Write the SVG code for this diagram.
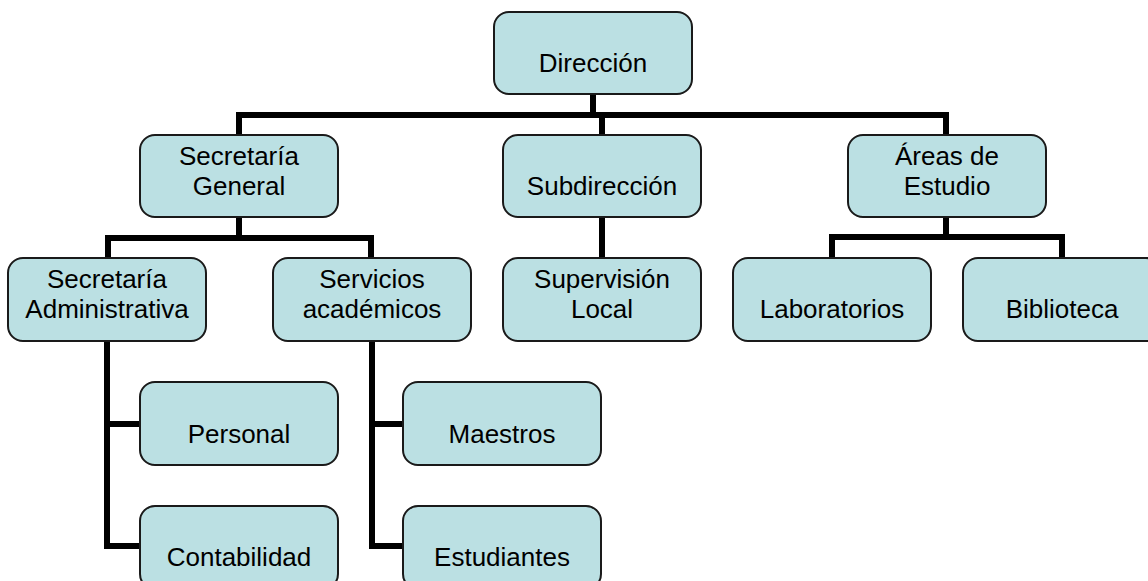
<svg xmlns="http://www.w3.org/2000/svg" width="1148" height="581" viewBox="0 0 1148 581">
<style>
.box{fill:#BBE0E3;stroke:#1a1a1a;stroke-width:2}
.lbl{font-family:"Liberation Sans",Arial,sans-serif;font-size:26px;fill:#000;text-anchor:middle}
.con{fill:none;stroke:#000;stroke-width:6;stroke-linejoin:miter;stroke-linecap:butt}
</style>
<rect width="1148" height="581" fill="#fff"/>
<g id="connectors">
<path class="con" d="M593,94 V115 M236,115 H949 M239,115 V135 M602,115 V135 M946,115 V135"/>
<path class="con" d="M239,217 V238 M108,258 V238 H371 V258"/>
<path class="con" d="M602,217 V258"/>
<path class="con" d="M946,217 V237 M832,258 V237 H1062 V258"/>
<path class="con" d="M107,341 V546 H140 M107,424 H140"/>
<path class="con" d="M372,341 V546 H403 M372,424 H403"/>
</g>
<g id="direccion"><rect class="box" x="494" y="12" width="198" height="82" rx="15"/><text class="lbl" x="593" y="72">Dirección</text></g>
<g id="secretaria-general"><rect class="box" x="140" y="135" width="198" height="82" rx="15"/><text class="lbl" x="239" y="165">Secretaría</text><text class="lbl" x="239" y="195">General</text></g>
<g id="subdireccion"><rect class="box" x="503" y="135" width="198" height="82" rx="15"/><text class="lbl" x="602" y="195">Subdirección</text></g>
<g id="areas-estudio"><rect class="box" x="848" y="135" width="198" height="82" rx="15"/><text class="lbl" x="947" y="165">Áreas de</text><text class="lbl" x="947" y="195">Estudio</text></g>
<g id="secretaria-administrativa"><rect class="box" x="8" y="258" width="198" height="83" rx="15"/><text class="lbl" x="107" y="288">Secretaría</text><text class="lbl" x="107" y="318">Administrativa</text></g>
<g id="servicios-academicos"><rect class="box" x="273" y="258" width="198" height="83" rx="15"/><text class="lbl" x="372" y="288">Servicios</text><text class="lbl" x="372" y="318">académicos</text></g>
<g id="supervision-local"><rect class="box" x="503" y="258" width="198" height="83" rx="15"/><text class="lbl" x="602" y="288">Supervisión</text><text class="lbl" x="602" y="318">Local</text></g>
<g id="laboratorios"><rect class="box" x="733" y="258" width="198" height="83" rx="15"/><text class="lbl" x="832" y="318">Laboratorios</text></g>
<g id="biblioteca"><rect class="box" x="963" y="258" width="198" height="83" rx="15"/><text class="lbl" x="1062" y="318">Biblioteca</text></g>
<g id="personal"><rect class="box" x="140" y="382" width="198" height="83" rx="15"/><text class="lbl" x="239" y="443">Personal</text></g>
<g id="maestros"><rect class="box" x="403" y="382" width="198" height="83" rx="15"/><text class="lbl" x="502" y="443">Maestros</text></g>
<g id="contabilidad"><rect class="box" x="140" y="506" width="198" height="83" rx="15"/><text class="lbl" x="239" y="566">Contabilidad</text></g>
<g id="estudiantes"><rect class="box" x="403" y="506" width="198" height="83" rx="15"/><text class="lbl" x="502" y="566">Estudiantes</text></g>
</svg>
